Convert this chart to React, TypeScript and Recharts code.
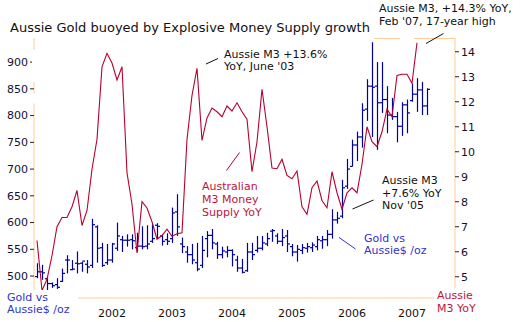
import React from 'react';
import { ComposedChart, Bar, Line, XAxis, YAxis } from 'recharts';

// months counted from Jan 2002; first bar is Oct 2000
const FIRST_MONTH = -15;
const YEAR_LABELS = ['2002', '2003', '2004', '2005', '2006', '2007'];
const GOLD_TICKS = [500, 550, 600, 650, 700, 750, 800, 850, 900];
const M3_TICKS = [5, 6, 7, 8, 9, 10, 11, 12, 13, 14];

// gold in Aussie$ per oz, monthly high / low / open / close
const goldHigh = [524, 521, 499, 488, 496, 514, 539, 530, 546, 527, 530, 607, 595, 562, 560,
  562, 600, 575, 578, 578, 581, 593, 595, 597, 599, 578, 580, 628, 653,
  572, 556, 560, 562, 575, 584, 588, 564, 555, 556, 550, 538, 532, 562,
  562, 575, 575, 581, 588, 580, 588, 586, 560, 558, 560, 562, 563, 575,
  575, 586, 625, 620, 680, 719, 755, 770, 823, 868, 937, 900, 900, 855,
  833, 807, 825, 830, 860, 870, 863, 851];
const goldLow = [496, 493, 474, 478, 476, 489, 505, 511, 505, 508, 505, 515, 525, 517, 521,
  525, 547, 545, 555, 550, 546, 550, 550, 562, 571, 557, 558, 562, 575,
  543, 525, 522, 509, 515, 535, 550, 532, 533, 535, 518, 508, 505, 508,
  530, 544, 548, 556, 564, 560, 556, 545, 537, 527, 541, 544, 545, 548,
  551, 556, 570, 598, 608, 663, 705, 715, 740, 790, 760, 736, 805, 767,
  792, 750, 762, 767, 826, 807, 801, 801];
const goldOpen = [499, 508, 495, 486, 484, 490, 530, 512, 524, 524, 522, 520, 592, 553, 525,
  530, 552, 568, 567, 568, 553, 556, 556, 565, 595, 575, 568, 570, 620,
  560, 545, 540, 525, 520, 570, 576, 560, 540, 545, 548, 530, 515, 510,
  545, 548, 552, 560, 584, 575, 565, 575, 555, 545, 548, 552, 553, 555,
  566, 568, 578, 605, 612, 668, 705, 745, 760, 812, 855, 855, 824, 830,
  801, 798, 780, 820, 828, 840, 848, 818];
const goldClose = [508, 506, 486, 482, 479, 505, 530, 513, 523, 528, 517, 596, 552, 520, 530,
  560, 575, 567, 567, 566, 556, 555, 560, 570, 593, 565, 565, 618, 592,
  555, 540, 530, 513, 548, 576, 562, 540, 547, 548, 540, 515, 507, 545,
  540, 552, 562, 570, 585, 565, 572, 560, 545, 550, 553, 555, 558, 568,
  568, 578, 605, 608, 665, 700, 745, 760, 810, 855, 853, 824, 830, 801,
  798, 780, 820, 805, 840, 848, 818, 849];

// Australian M3 money supply, % YoY (Oct 2000 - Feb 2007)
const m3Yoy = [6.45, 4.45, 4.9, 5.85, 7.0, 7.37, 7.37, 7.8, 8.45, 7.05, 7.65, 9.3, 10.5, 13.4, 13.94,
  13.55, 12.87, 13.4, 9.16, 7.9, 5.95, 8.0, 7.75, 7.2, 6.5, 6.65, 6.9, 6.62, 6.72,
  6.76, 10.5, 12.25, 13.34, 10.45, 11.35, 11.75, 11.6, 11.4, 11.83, 11.63, 11.96, 11.6, 11.3,
  9.2, 10.4, 12.5, 11.0, 9.35, 9.32, 9.7, 9.05, 8.92, 9.23, 7.8, 7.5, 8.56, 8.83,
  8.05, 7.76, 9.2, 8.36, 7.7, 8.36, 8.56, 8.36, 9.5, 11.0, 10.4, 10.2, 10.8, 11.7,
  11.4, 13.05, 13.1, 13.1, 12.74, 14.36];

const rows = goldHigh.map((high, i) => ({
  t: FIRST_MONTH + i,
  high,
  low: goldLow[i],
  open: goldOpen[i],
  close: goldClose[i],
  m3: i < m3Yoy.length ? m3Yoy[i] : null,
}));

const AXIS = '#FFCC99';
const GOLD = '#0000a0';
const M3 = '#b8002e';
const BLUE_TXT = '#3333cc';
const RED_TXT = '#c0143c';
const FONT = 'DejaVu Sans, Verdana, sans-serif';

const OhlcBar = (props: any) => {
  const { x, y, width, height, payload } = props;
  if (x == null || !payload) return null;
  const top = Math.min(y, y + height);
  const bot = Math.max(y, y + height);
  const { high, low, open, close } = payload;
  const py = (v: number) => bot - ((v - low) / (high - low)) * (bot - top);
  const cx = Math.round(x + width / 2) + 0.5;
  return (
    <g stroke={GOLD} strokeWidth={1.2}>
      <line x1={cx} x2={cx} y1={top} y2={bot} />
      <line x1={cx - 2.5} x2={cx} y1={py(open)} y2={py(open)} />
      <line x1={cx} x2={cx + 2.5} y1={py(close)} y2={py(close)} />
    </g>
  );
};

const tickStyle = { fill: '#111133', fontSize: 11, fontFamily: FONT };

export default function App() {
  return (
    <div style={{ position: 'fixed', left: 0, top: 0, width: 522, height: 322, background: '#fff' }}>
      <ComposedChart width={522} height={322} data={rows} margin={{ top: 38, right: 0, bottom: 0, left: 0 }}>
        <XAxis
          dataKey="t"
          type="number"
          domain={[-15.6, 68.6]}
          allowDataOverflow
          ticks={[0, 12, 24, 36, 48, 60]}
          tickFormatter={(v: number) => YEAR_LABELS[Math.round(v / 12)]}
          height={24}
          axisLine={{ stroke: AXIS }}
          tickLine={false}
          tickMargin={5}
          tick={{ ...tickStyle, fill: '#111' }}
        />
        <YAxis
          yAxisId="gold"
          orientation="left"
          width={34}
          domain={[459, 945]}
          allowDataOverflow
          ticks={GOLD_TICKS}
          axisLine={{ stroke: AXIS }}
          tickLine={{ stroke: '#222' }}
          tickSize={4}
          tickMargin={2}
          tick={tickStyle}
        />
        <YAxis
          yAxisId="m3"
          orientation="right"
          width={67}
          domain={[4.15, 14.55]}
          allowDataOverflow
          ticks={M3_TICKS}
          axisLine={{ stroke: AXIS }}
          tickLine={{ stroke: '#222' }}
          tickSize={4}
          tickMargin={2}
          tick={tickStyle}
        />
        <Bar
          yAxisId="gold"
          dataKey={(d: any) => [d.low, d.high]}
          barSize={5}
          shape={OhlcBar}
          isAnimationActive={false}
        />
        <Line
          yAxisId="m3"
          dataKey="m3"
          type="linear"
          stroke={M3}
          strokeWidth={1.1}
          dot={false}
          activeDot={false}
          isAnimationActive={false}
        />
      </ComposedChart>
      <svg
        width={522}
        height={322}
        style={{ position: 'absolute', left: 0, top: 0, pointerEvents: 'none' }}
        fontFamily={FONT}
        fontSize={11}
      >
        {/* label boxes cut the frame */}
        <rect x={32} y={50} width={4} height={32} fill="#fff" />
        <rect x={32} y={93.5} width={4} height={10} fill="#fff" />
        <rect x={32} y={290} width={46} height={10} fill="#fff" />
        <rect x={434} y={288} width={24} height={12} fill="#fff" />
        <line x1={374} x2={400} y1={38.5} y2={38.5} stroke={AXIS} />
        <line x1={414} x2={455} y1={38.5} y2={38.5} stroke={AXIS} />

        <text x={10} y={32} fontSize={13} fill="#111">Aussie Gold buoyed by Explosive Money Supply growth</text>

        <line x1={206} y1={64} x2={218} y2={58.5} stroke="#111" />
        <text x={224} y={57.5} fill="#111">Aussie M3 +13.6%</text>
        <text x={224} y={70} fill="#111">YoY, June '03</text>

        <line x1={226.5} y1={170.5} x2={239.5} y2={152.5} stroke={M3} />
        <text x={202} y={190} fill={RED_TXT}>Australian</text>
        <text x={202} y={203} fill={RED_TXT}>M3 Money</text>
        <text x={202} y={216} fill={RED_TXT}>Supply YoY</text>

        <line x1={352.5} y1={209} x2={373.5} y2={200} stroke="#111" />
        <text x={382} y={183.5} fill="#111">Aussie M3</text>
        <text x={382} y={196.5} fill="#111">+7.6% YoY</text>
        <text x={382} y={208.5} fill="#111">Nov '05</text>

        <line x1={339} y1={237.5} x2={355.5} y2={249} stroke={BLUE_TXT} />
        <text x={364} y={241.5} fill={BLUE_TXT}>Gold vs</text>
        <text x={364} y={254} fill={BLUE_TXT}>Aussie$ /oz</text>

        <line x1={426} y1={43.5} x2={443.5} y2={33.5} stroke="#111" />
        <text x={379} y={12} fill="#111">Aussie M3, +14.3% YoY,</text>
        <text x={379} y={25} fill="#111">Feb '07, 17-year high</text>

        <text x={7} y={300.5} fill={BLUE_TXT}>Gold vs</text>
        <text x={7} y={312.5} fill={BLUE_TXT}>Aussie$ /oz</text>

        <text x={437} y={299} fill={RED_TXT}>Aussie</text>
        <text x={437} y={311.5} fill={RED_TXT}>M3 YoY</text>
      </svg>
    </div>
  );
}
